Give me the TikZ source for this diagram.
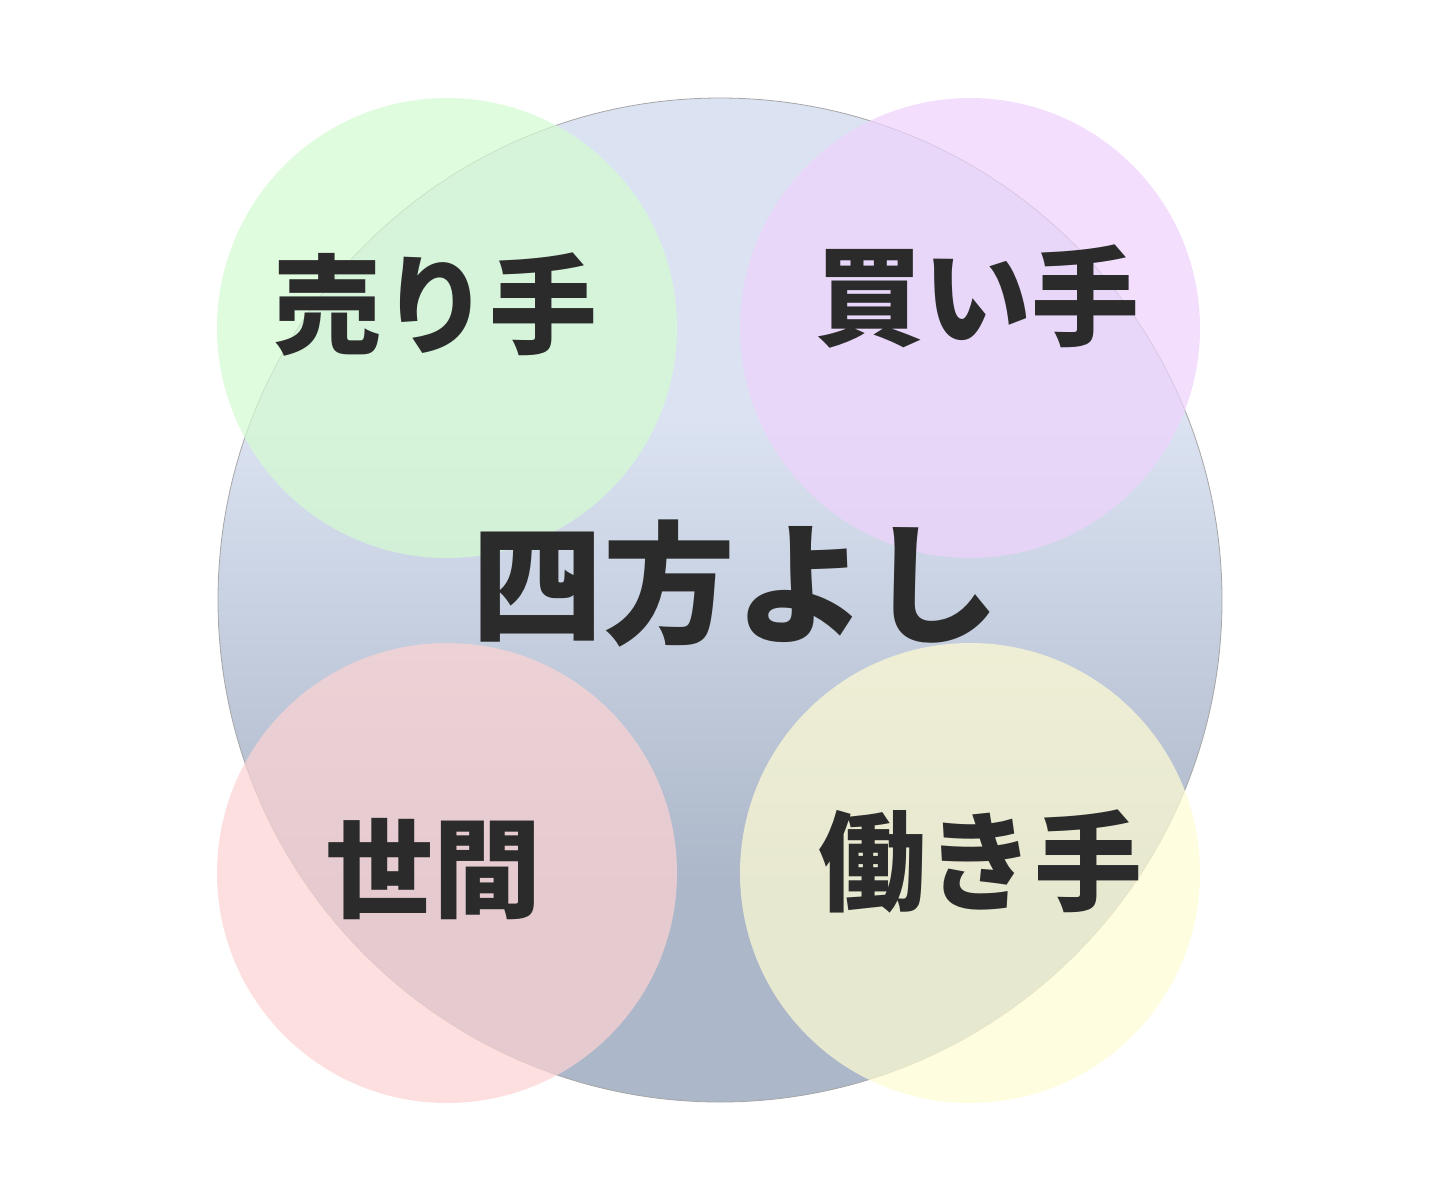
\documentclass[tikz,border=0pt]{standalone}
\usepackage{fontspec}
\usepackage{xcolor}
\newfontfamily\cjk{Noto Sans CJK JP}[BoldFont={Noto Sans CJK JP Black}]
\definecolor{testo}{HTML}{2B2B2B}
\definecolor{bluAlto}{HTML}{DBE3F2}
\definecolor{bluBasso}{HTML}{ACB7C9}
\definecolor{verde}{RGB}{212,251,209}
\definecolor{viola}{RGB}{238,211,252}
\definecolor{rosso}{RGB}{252,211,211}
\definecolor{giallo}{RGB}{255,252,211}
\pgfdeclareverticalshading{sfumatura}{100bp}{color(0bp)=(bluBasso); color(36bp)=(bluBasso); color(59bp)=(bluAlto); color(100bp)=(bluAlto)}
\tikzset{
  cerchietto/.style = {opacity = 0.72},
  etichetta/.style = {text = testo, font = \cjk\bfseries\fontsize{54pt}{60pt}\selectfont, inner sep = 0pt},
}

\begin{document}
\begin{tikzpicture}[x = 0.5pt, y = -0.5pt]
    % Parametri
    \pgfmathsetmacro{\raggio}{502}
    \pgfmathsetmacro{\raggiopiccolo}{230}
    \useasboundingbox (0,0) rectangle (1440,1201);
    % Disco grande
    \coordinate (o) at (720,600);
    \shade[shading = sfumatura, draw = gray!70, line width = 0.4pt] (o) circle (\raggio);
    % Dischi piccoli
    \coordinate (v) at (447,328);
    \coordinate (p) at (970,328);
    \coordinate (r) at (447,873);
    \coordinate (g) at (970,873);
    \fill[cerchietto, verde] (v) circle (\raggiopiccolo);
    \fill[cerchietto, viola] (p) circle (\raggiopiccolo);
    \fill[cerchietto, rosso] (r) circle (\raggiopiccolo);
    \fill[cerchietto, giallo] (g) circle (\raggiopiccolo);
    % Etichette
    \node[etichetta] (venditore) at (435,305){売り手};
    \node[etichetta] (compratore) at (977,297){買い手};
    \node[etichetta] (societa) at (433,869){世間};
    \node[etichetta] (lavoratore) at (980,861){働き手};
    \node[etichetta, font = \cjk\bfseries\fontsize{66pt}{72pt}\selectfont] (centro) at (735,584){四方よし};
\end{tikzpicture}
\end{document}
